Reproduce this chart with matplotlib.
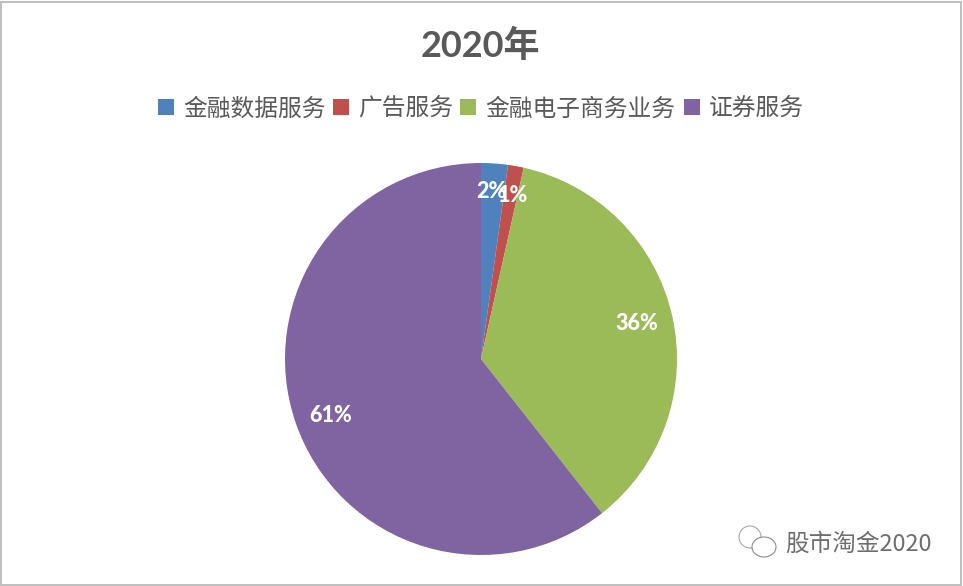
import matplotlib
matplotlib.use("Agg")
import matplotlib.pyplot as plt
from matplotlib.patches import Rectangle, Ellipse

categories = ["金融数据服务", "广告服务", "金融电子商务业务", "证券服务"]
values = [2.2, 1.3, 35.9, 60.6]
labels = ["2%", "1%", "36%", "61%"]
colors = ["#4F81BD", "#C0504D", "#9BBB59", "#8064A2"]
title = "2020年"
watermark = "股市淘金2020"

plt.rcParams['font.family'] = ['Noto Sans CJK SC', 'DejaVu Sans']
LATIN = ['Lato', 'Noto Sans CJK SC']
W, H = 963, 586
fig = plt.figure(figsize=(W/100, H/100), dpi=100, facecolor="white")
fig.patches.append(Rectangle((0.5/W, 1.5/H), (W-3)/W, (H-3)/H, transform=fig.transFigure,
                             fill=False, ec="#BFBFBF", lw=1.4))

r = 196; cx, cy = 481, 359
pax = fig.add_axes([(cx-r)/W, 1-(cy+r)/H, 2*r/W, 2*r/H])
pax.pie(values, colors=colors, startangle=90, counterclock=False, radius=1, wedgeprops=dict(lw=0))
pax.set_xlim(-1, 1); pax.set_ylim(-1, 1)

fig.text(480/W, 1-46/H, title, ha="center", va="center", fontsize=26, fontweight="bold",
         color="#595959", family=LATIN)

xs = [158, 333, 460, 684]
for c, lab, x in zip(colors, categories, xs):
    fig.patches.append(Rectangle((x/W, 1-115/H), 16/W, 16/H, transform=fig.transFigure, fc=c, ec="none"))
    fig.text((x+25)/W, 1-109/H, lab, ha="left", va="center", fontsize=17.1, color="#595959", fontweight="light")

label_pos = [(491, 192), (513, 195), (637, 324), (331, 415)]
for lab, (x, y) in zip(labels, label_pos):
    fig.text(x/W, 1-y/H, lab, ha="center", va="center", fontsize=15.5, fontweight=900,
             color="white", family=LATIN)

# watermark: WeChat-style bubbles and light, embossed text
fig.patches.append(Ellipse((750/W, 1-537/H), 22/W, 22/H, transform=fig.transFigure, fill=False, ec="#A8A8A8", lw=0.8))
fig.patches.append(Ellipse((764/W, 1-547/H), 24/W, 20/H, transform=fig.transFigure, fc="white", ec="#8C8C8C", lw=0.8))
fig.text(858/W, 1-544/H, watermark, ha="center", va="center", fontsize=17, color="#6E6E6E", fontweight="light")
fig.savefig("out.png", dpi=100)
